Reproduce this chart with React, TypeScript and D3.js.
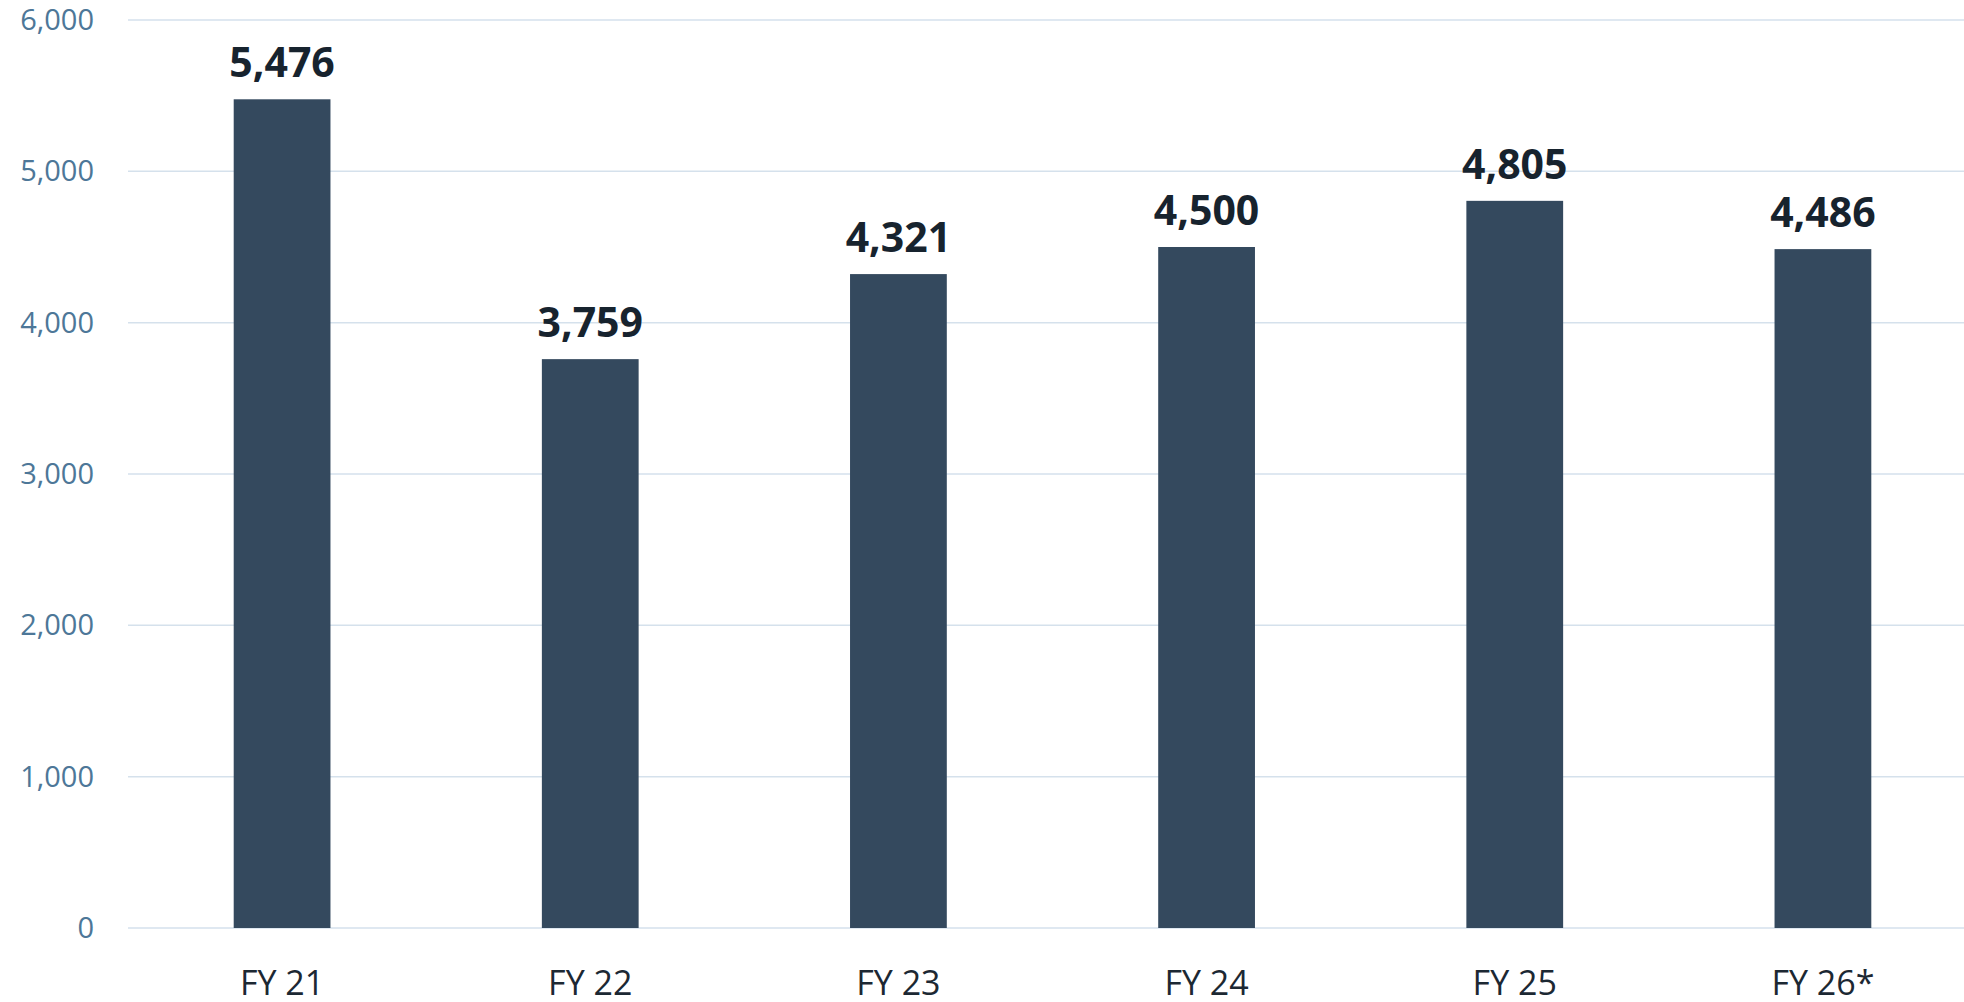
import { scaleBand, scaleLinear } from 'd3'

const categories = ['FY 21', 'FY 22', 'FY 23', 'FY 24', 'FY 25', 'FY 26*']
const values = [5476, 3759, 4321, 4500, 4805, 4486]
const yTicks = [0, 1000, 2000, 3000, 4000, 5000, 6000]

export default function App() {
  const width = 1964
  const height = 1002
  const left = 128
  const top = 20
  const bottom = 928

  const xScale = scaleBand<string>().domain(categories).range([left, 1977]).paddingInner(0.686).paddingOuter(0.343)
  const yScale = scaleLinear().domain([0, 6000]).range([bottom, top])
  const fmt = (v: number) => v.toLocaleString('en-US')

  return (
    <svg
      width={width}
      height={height}
      viewBox={`0 0 ${width} ${height}`}
      style={{ position: 'fixed', left: 0, top: 0, fontFamily: '"Open Sans", sans-serif' }}
    >
      <rect width={width} height={height} fill="#ffffff" />
      {yTicks.map((tick) => (
        <g key={tick}>
          <line x1={left} x2={width} y1={yScale(tick)} y2={yScale(tick)} stroke="#d5e1ec" strokeWidth="1.5" />
          <text x="94" y={yScale(tick) + 10} textAnchor="end" fill="#4d7798" fontSize="29">
            {fmt(tick)}
          </text>
        </g>
      ))}
      {categories.map((cat, i) => {
        const x = xScale(cat) ?? 0
        const y = yScale(values[i])
        return (
          <g key={cat}>
            <rect x={x} y={y} width={xScale.bandwidth()} height={bottom - y} fill="#34495e" />
            <text x={x + xScale.bandwidth() / 2} y={y - 22} textAnchor="middle" fill="#17232e" fontSize="41" fontWeight="700">
              {fmt(values[i])}
            </text>
            <text x={x + xScale.bandwidth() / 2} y="995" textAnchor="middle" fill="#1c2833" fontSize="34">
              {cat}
            </text>
          </g>
        )
      })}
    </svg>
  )
}
